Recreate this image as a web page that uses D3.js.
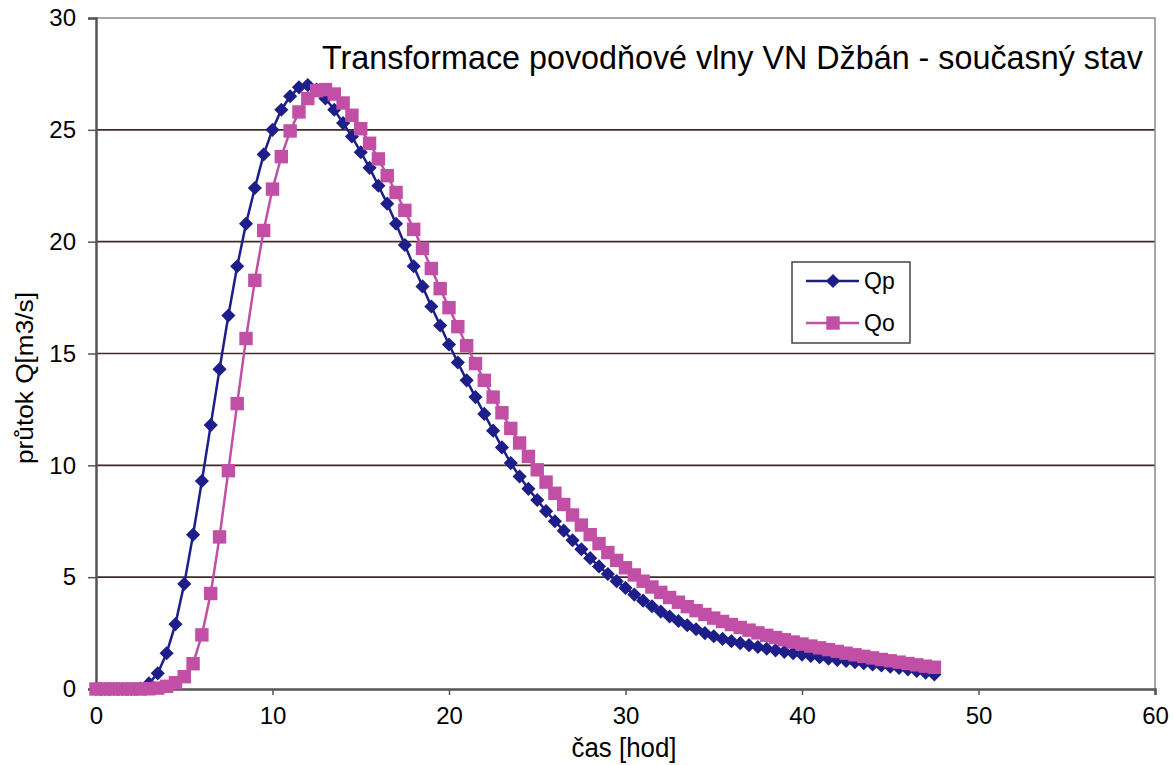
<!DOCTYPE html>
<html>
<head>
<meta charset="utf-8">
<script src="https://cdn.jsdelivr.net/npm/d3@7"></script>
<style>
  html, body { margin: 0; padding: 0; background: #fff; }
  text { font-family: "Liberation Sans", Arial, sans-serif; fill: #000; }
</style>
</head>
<body>
<svg id="chart"></svg>
<script>
// time [hod]
var casHod = [
  0, 0.5, 1, 1.5, 2, 2.5, 3, 3.5, 4, 4.5, 5, 5.5, 6, 6.5, 7, 7.5, 8, 8.5, 9, 9.5,
  10, 10.5, 11, 11.5, 12, 12.5, 13, 13.5, 14, 14.5, 15, 15.5, 16, 16.5, 17, 17.5, 18, 18.5, 19, 19.5,
  20, 20.5, 21, 21.5, 22, 22.5, 23, 23.5, 24, 24.5, 25, 25.5, 26, 26.5, 27, 27.5, 28, 28.5, 29, 29.5,
  30, 30.5, 31, 31.5, 32, 32.5, 33, 33.5, 34, 34.5, 35, 35.5, 36, 36.5, 37, 37.5, 38, 38.5, 39, 39.5,
  40, 40.5, 41, 41.5, 42, 42.5, 43, 43.5, 44, 44.5, 45, 45.5, 46, 46.5, 47, 47.5
];

// inflow Qp [m3/s]
var qp = [
  0, 0, 0, 0, 0, 0.02, 0.25, 0.7, 1.6, 2.9, 4.7, 6.9, 9.3, 11.8, 14.3, 16.7, 18.9, 20.8, 22.4, 23.9,
  25.0, 25.9, 26.5, 26.9, 27.0, 26.8, 26.4, 25.9, 25.3, 24.7, 24.0, 23.3, 22.5, 21.7, 20.8, 19.85, 18.9, 18.0, 17.1, 16.25,
  15.4, 14.6, 13.8, 13.05, 12.3, 11.55, 10.8, 10.1, 9.5, 8.95, 8.45, 7.95, 7.5, 7.08, 6.65, 6.25, 5.85, 5.48, 5.14, 4.82,
  4.52, 4.22, 3.95, 3.7, 3.46, 3.24, 3.04, 2.85, 2.67, 2.5, 2.36, 2.24, 2.14, 2.05, 1.96, 1.88, 1.8, 1.73, 1.66, 1.6,
  1.54, 1.48, 1.42, 1.36, 1.3, 1.25, 1.2, 1.15, 1.1, 1.05, 1.0, 0.94, 0.88, 0.81, 0.73, 0.65
];

// outflow Qo [m3/s]
var qo = [
  0, 0, 0, 0, 0, 0, 0.01, 0.04, 0.12, 0.28, 0.55, 1.13, 2.42, 4.27, 6.8, 9.76, 12.76, 15.67, 18.27, 20.5,
  22.35, 23.8, 24.95, 25.8, 26.4, 26.75, 26.8, 26.6, 26.2, 25.65, 25.05, 24.4, 23.7, 22.95, 22.2, 21.4, 20.55, 19.7, 18.8, 17.9,
  17.05, 16.2, 15.35, 14.55, 13.8, 13.05, 12.35, 11.65, 11.0, 10.4, 9.8, 9.25, 8.75, 8.25, 7.78, 7.33, 6.9, 6.5, 6.1, 5.75,
  5.42, 5.1, 4.82, 4.56, 4.32, 4.09, 3.88, 3.68, 3.5, 3.33, 3.17, 3.02, 2.88, 2.75, 2.63, 2.51, 2.4, 2.3, 2.2, 2.1,
  2.01, 1.92, 1.84, 1.76, 1.68, 1.6, 1.53, 1.46, 1.39, 1.32, 1.26, 1.2, 1.14, 1.08, 1.02, 0.97
];

var xTicks = [0, 10, 20, 30, 40, 50, 60];
var yTicks = [0, 5, 10, 15, 20, 25, 30];
var seriesNames = ['Qp', 'Qo'];

var W = 1173, H = 765;
var mLeft = 96, mRight = 1155, mTop = 18, mBottom = 689;

var svg = d3.select('#chart').attr('width', W).attr('height', H);

var x = d3.scaleLinear().domain([0, 60]).range([mLeft, mRight]);
var y = d3.scaleLinear().domain([0, 30]).range([mBottom, mTop]);

// gridlines
svg.append('g')
  .selectAll('line')
  .data(yTicks.filter(function(d){ return d > 0 && d < 30; }))
  .enter()
    .append('line')
    .attr('x1', mLeft).attr('x2', mRight)
    .attr('y1', function(d){ return y(d); })
    .attr('y2', function(d){ return y(d); })
    .attr('stroke', '#3d2c28')
    .attr('stroke-width', 1.6);

// plot frame top / right
svg.append('path')
  .attr('d', 'M' + mLeft + ',' + mTop + 'H' + mRight + 'V' + mBottom)
  .attr('fill', 'none')
  .attr('stroke', '#8a8a8a')
  .attr('stroke-width', 1.5);

// axes
var yAxis = d3.axisLeft(y).tickValues(yTicks).tickSize(8).tickPadding(12);
var xAxis = d3.axisBottom(x).tickValues(xTicks).tickSize(6).tickPadding(12);

var gy = svg.append('g').attr('transform', 'translate(' + mLeft + ',0)').call(yAxis);
var gx = svg.append('g').attr('transform', 'translate(0,' + mBottom + ')').call(xAxis);

[gx, gy].forEach(function(g){
  g.select('.domain').attr('stroke', '#555').attr('stroke-width', 2.5);
  g.selectAll('.tick line').attr('stroke', '#555').attr('stroke-width', 1.5);
  g.selectAll('.tick text')
    .attr('font-family', '"Liberation Sans", Arial, sans-serif')
    .attr('font-size', 24)
    .attr('fill', '#000');
});

// series
var series = [
  {name: seriesNames[0], values: qp, color: '#1e1e8a', shape: 'diamond'},
  {name: seriesNames[1], values: qo, color: '#c24fa6', shape: 'square'}
];

var line = d3.line()
  .x(function(d){ return x(d[0]); })
  .y(function(d){ return y(d[1]); });

function markerPath(shape){
  if(shape === 'diamond') return d3.symbol().type(d3.symbolSquare).size(100)();
  return d3.symbol().type(d3.symbolSquare).size(180)();
}

series.forEach(function(s){
  var pts = casHod.map(function(t, i){ return [t, s.values[i]]; });
  var g = svg.append('g');
  g.append('path')
    .attr('d', line(pts))
    .attr('fill', 'none')
    .attr('stroke', s.color)
    .attr('stroke-width', 2.5);
  g.selectAll('path.m')
    .data(pts)
    .enter()
      .append('path')
      .attr('class', 'm')
      .attr('d', markerPath(s.shape))
      .attr('transform', function(d){
        return 'translate(' + x(d[0]) + ',' + y(d[1]) + ')' + (s.shape === 'diamond' ? ' rotate(45)' : '');
      })
      .attr('fill', s.color);
});

// title
svg.append('text')
  .attr('x', 322).attr('y', 69)
  .attr('font-size', 33)
  .attr('textLength', 821)
  .attr('lengthAdjust', 'spacingAndGlyphs')
  .text('Transformace povodňové vlny VN Džbán - současný stav');

// axis titles
svg.append('text')
  .attr('x', 624).attr('y', 757)
  .attr('text-anchor', 'middle')
  .attr('font-size', 27)
  .attr('textLength', 105)
  .attr('lengthAdjust', 'spacingAndGlyphs')
  .text('čas [hod]');

svg.append('text')
  .attr('transform', 'translate(33,378) rotate(-90)')
  .attr('text-anchor', 'middle')
  .attr('font-size', 23)
  .attr('textLength', 172)
  .attr('lengthAdjust', 'spacingAndGlyphs')
  .text('průtok Q[m3/s]');

// legend
var leg = svg.append('g').attr('transform', 'translate(792,262)');
leg.append('rect')
  .attr('width', 118).attr('height', 81)
  .attr('fill', '#fff')
  .attr('stroke', '#444')
  .attr('stroke-width', 1.5);

var legItem = leg.selectAll('g.item')
  .data(series)
  .enter()
    .append('g')
    .attr('class', 'item')
    .attr('transform', function(d, i){ return 'translate(0,' + (19 + i * 42) + ')'; });

legItem.append('line')
  .attr('x1', 14).attr('x2', 67)
  .attr('stroke', function(d){ return d.color; })
  .attr('stroke-width', 2.5);
legItem.append('path')
  .attr('d', function(d){ return markerPath(d.shape); })
  .attr('transform', function(d){ return 'translate(41,0)' + (d.shape === 'diamond' ? ' rotate(45)' : ''); })
  .attr('fill', function(d){ return d.color; });
legItem.append('text')
  .attr('x', 72).attr('y', 8)
  .attr('font-size', 23)
  .text(function(d){ return d.name; });
</script>
</body>
</html>
